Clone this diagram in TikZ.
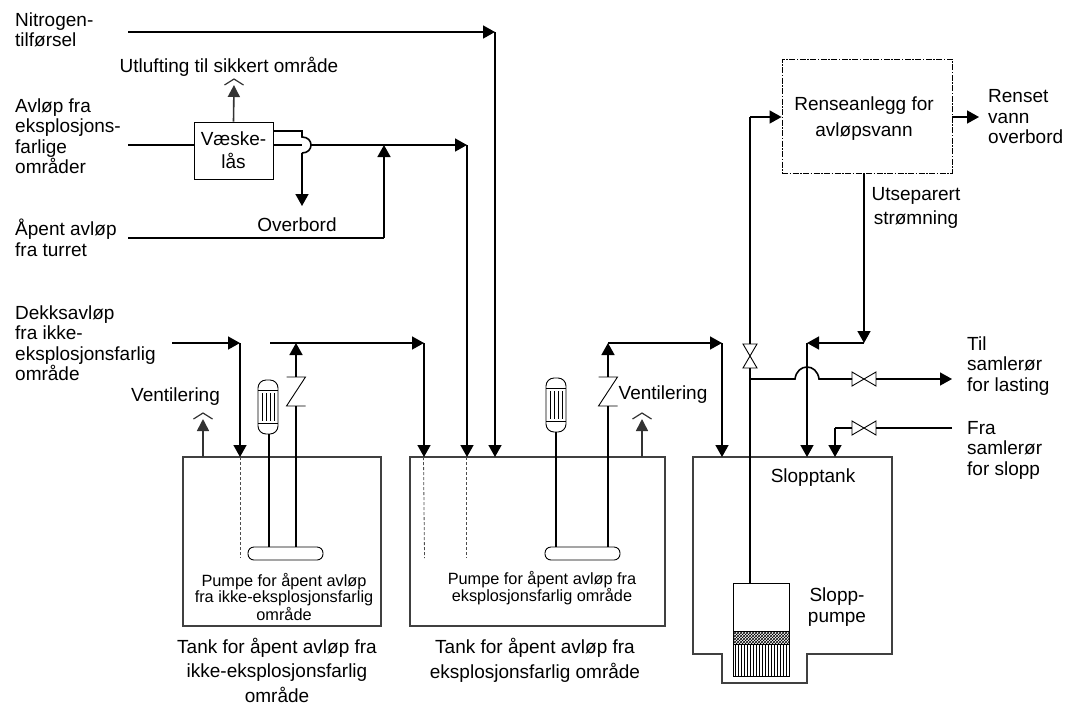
\documentclass[tikz,border=0pt]{standalone}
\usepackage{fontspec}
\setmainfont{Liberation Sans}
\usetikzlibrary{arrows.meta,patterns}

\tikzset{
  pipe/.style={line width=1.6pt, draw=black},
  flow/.style={pipe, -{Triangle[length=12pt, width=13pt]}},
  ventflow/.style={line width=1.6pt, draw=black!80, -{Triangle[length=12pt, width=12pt]}},
  vessel/.style={draw=black!75, line width=1.1pt, inner sep=0pt, outer sep=0pt},
  dip/.style={draw=black!70, line width=0.8pt, dash pattern=on 3pt off 2pt},
  lbl/.style={align=left, anchor=west, inner sep=0pt, font=\fontsize{19}{20.5}\selectfont},
  ctr/.style={align=center, inner sep=0pt, font=\fontsize{19}{20.5}\selectfont},
  small/.style={align=center, inner sep=0pt, font=\fontsize{16.3}{16}\selectfont},
  valve/.pic={\draw[line width=0.9pt] (-12,-7) -- (12,7) -- (12,-7) -- (-12,7) -- cycle;},
  hat/.pic={\draw[line width=1.2pt, draw=black!80] (-9.5,6) -- (0,0) -- (9.5,6);},
  check/.pic={\draw[line width=0.9pt] (-9.5,0) -- (9.5,0) -- (-9.5,29) -- (9.5,29);},
  motor/.pic={
    \draw[line width=0.9pt, fill=white, rounded corners=8pt] (-10,0) rectangle (10,54);
    \draw[line width=0.9pt] (-10,10) -- (10,10) (-10,43) -- (10,43);
    \draw[line width=0.7pt] (-6,13) -- (-6,41) (-2,13) -- (-2,41) (2,13) -- (2,41) (6,13) -- (6,41);
  }
}

\begin{document}
\begin{tikzpicture}[x=1pt, y=-1pt]
  \useasboundingbox (0,0) rectangle (1065,702);

  % tanks
  \node[vessel, minimum width=198pt, minimum height=169pt] (tankA) at (282,541.5) {};
  \node[vessel, minimum width=255pt, minimum height=169pt] (tankB) at (537.5,541.5) {};
  \draw[vessel] (693,457) -- (892,457) -- (892,654) -- (807,654) -- (807,683) -- (722,683) -- (722,654) -- (693,654) -- cycle;

  % boxes
  \node[draw, line width=0.9pt, align=center, minimum width=79pt, minimum height=57pt, inner sep=0pt,
        font=\fontsize{19}{23}\selectfont] (lock) at (233.5,150.5) {Væske-\\lås};
  \node[draw, line width=0.9pt, dash pattern=on 6pt off 1.5pt on 1.5pt off 1.5pt, minimum width=170pt, minimum height=114pt, inner sep=0pt] (plant) at (867,116) {};
  \node[draw, rounded corners=6pt, line width=0.9pt, minimum width=75pt, minimum height=13pt, inner sep=0pt] (pumpA) at (285.5,553.5) {};
  \node[draw, rounded corners=6pt, line width=0.9pt, minimum width=75pt, minimum height=13pt, inner sep=0pt] (pumpB) at (582.5,553.5) {};

  % slop pump
  \node[draw, line width=0.9pt, minimum width=56pt, minimum height=48pt, inner sep=0pt] (slopMotor) at (761,607) {};
  \node[draw, line width=0.9pt, pattern=crosshatch, minimum width=56pt, minimum height=13pt, inner sep=0pt] (slopMesh) at (761,637.5) {};
  \node[draw, line width=0.9pt, pattern=vertical lines, minimum width=56pt, minimum height=32pt, inner sep=0pt] (slopGrid) at (761,660) {};

  % free ends and bends
  \coordinate (nitroIn) at (128,32);
  \coordinate (nitroBend) at (495,32);
  \coordinate (drainIn) at (128,145);
  \coordinate (drainBend) at (467,145);
  \coordinate (openIn) at (128,238);
  \coordinate (openBend) at (384,238);
  \coordinate (openTee) at (384,145);
  \coordinate (deckIn) at (172,343);
  \coordinate (deckBend) at (240,343);
  \coordinate (headA) at (270,343);
  \coordinate (headABend) at (424,343);
  \coordinate (riseA) at (296,343);
  \coordinate (riseB) at (608,343);
  \coordinate (headBBend) at (722,343);
  \coordinate (slopRise) at (750,117);
  \coordinate (sepTop) at (864,173);
  \coordinate (sepBend) at (864,343);
  \coordinate (sepDrop) at (807,343);
  \coordinate (loadTee) at (750,379);
  \coordinate (loadOut) at (952,379);
  \coordinate (slopIn) at (952,428);
  \coordinate (slopBend) at (835,428);
  \coordinate (overTop) at (302,131);
  \coordinate (overEnd) at (302,206);
  \coordinate (plantOut) at (979,117);

  % inlet lines
  \draw[flow] (nitroIn) -- (nitroBend);
  \draw[flow] (nitroBend) -- (495,457);
  \draw[pipe] (drainIn) -- (lock.west |- drainIn);
  \draw[pipe] (lock.east |- drainIn) -- (302,145);
  \draw[flow] (311,145) -- (drainBend);
  \draw[flow] (drainBend) -- (467,457);
  \draw[pipe] (openIn) -- (openBend);
  \draw[flow] (openBend) -- (openTee);
  \draw[flow] (deckIn) -- (deckBend);
  \draw[flow] (deckBend) -- (240,457);
  \draw[flow] (headA) -- (headABend);
  \draw[flow] (headABend) -- (424,457);

  % liquid seal outlets
  \draw[ventflow] (lock.north) -- (234,85);
  \pic at (234,79) {hat};
  \draw[pipe] (lock.east |- overTop) -- (overTop) -- (302,137) .. controls (314,137) and (314,153) .. (302,153);
  \draw[flow] (302,153) -- (overEnd);

  % vents
  \draw[ventflow] (203,457) -- (203,419);
  \pic at (203,413) {hat};
  \draw[ventflow] (642,457) -- (642,419);
  \pic at (642,413) {hat};

  % dip pipes
  \draw[dip] (240,457) -- (240,558);
  \draw[dip] (423.5,457) -- (424.5,558);
  \draw[dip] (466.5,457) -- (466.5,558);

  % pump risers
  \pic at (268,380) {motor};
  \pic at (556,378) {motor};
  \draw[pipe] (269,434) -- (269,547);
  \draw[pipe] (556,432) -- (556,547);
  \pic at (296,377) {check};
  \pic at (608,377) {check};
  \draw[pipe] (296,547) -- (296,406);
  \draw[flow] (296,377) -- (riseA);
  \draw[pipe] (608,547) -- (608,406);
  \draw[flow] (608,377) -- (riseB);
  \draw[flow] (riseB) -- (headBBend);
  \draw[flow] (headBBend) -- (722,457);

  % slop tank piping
  \draw[pipe] (slopMotor.north -| slopRise) -- (750,368);
  \pic[rotate=90] at (750,356) {valve};
  \draw[pipe] (750,344) -- (slopRise);
  \draw[flow] (slopRise) -- (plant.west |- slopRise);
  \draw[flow] (plant.east |- plantOut) -- (plantOut);
  \draw[flow] (sepTop) -- (sepBend);
  \draw[flow] (sepBend) -- (sepDrop);
  \draw[flow] (sepDrop) -- (807,457);
  \draw[pipe] (loadTee) -- (795,379) .. controls (797,363) and (817,363) .. (819,379) -- (852,379);
  \pic at (864,379) {valve};
  \draw[flow] (876,379) -- (loadOut);
  \draw[pipe] (slopIn) -- (876,428);
  \pic at (864,428) {valve};
  \draw[pipe] (852,428) -- (slopBend);
  \draw[flow] (slopBend) -- (835,457);

  % labels
  \node[ctr, font=\fontsize{19}{26}\selectfont] (lblPlant) at (864,119) {Renseanlegg for\\avløpsvann};
  \node[lbl] (lblNitro) at (15,30) {Nitrogen-\\tilførsel};
  \node[lbl] (lblDrain) at (15,136) {Avløp fra\\eksplosjons-\\farlige\\områder};
  \node[lbl] (lblOpen) at (15,238) {Åpent avløp\\fra turret};
  \node[lbl] (lblDeck) at (15,343) {Dekksavløp\\fra ikke-\\eksplosjonsfarlig\\område};
  \node[ctr] (lblVent) at (229,67) {Utlufting til sikkert område};
  \node[ctr] (lblOver) at (297,225) {Overbord};
  \node[ctr] (lblVentA) at (175.5,397) {Ventilering};
  \node[ctr] (lblVentB) at (663,395) {Ventilering};
  \node[lbl] (lblClean) at (988,117) {Renset\\vann\\overbord};
  \node[ctr, font=\fontsize{19}{24}\selectfont] (lblSep) at (916,208) {Utseparert\\strømning};
  \node[lbl] (lblLoad) at (967,366) {Til\\samlerør\\for lasting};
  \node[lbl] (lblSlop) at (967,450) {Fra\\samlerør\\for slopp};
  \node[ctr] (lblSlopTank) at (813,478) {Slopptank};
  \node[ctr] (lblSlopPump) at (837,607) {Slopp-\\pumpe};
  \node[small] (lblPumpA) at (284,597) {Pumpe for åpent avløp\\fra ikke-eksplosjonsfarlig\\område};
  \node[small] (lblPumpB) at (542,588) {Pumpe for åpent avløp fra\\eksplosjonsfarlig område};
  \node[ctr, font=\fontsize{19}{24.5}\selectfont] (lblTankA) at (277,670) {Tank for åpent avløp fra\\ikke-eksplosjonsfarlig\\område};
  \node[ctr, font=\fontsize{19}{25}\selectfont] (lblTankB) at (535,660) {Tank for åpent avløp fra\\eksplosjonsfarlig område};
\end{tikzpicture}
\end{document}
